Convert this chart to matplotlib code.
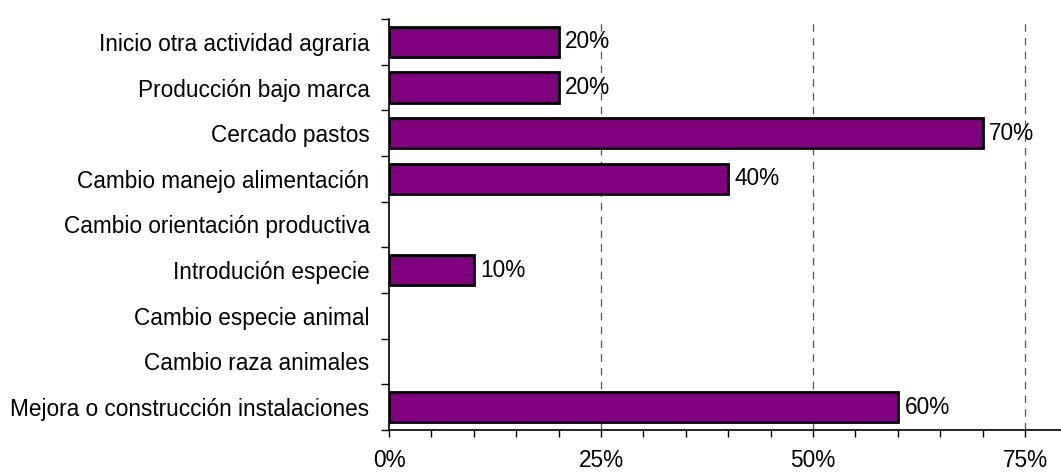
import numpy as np
import matplotlib as mpl
mpl.use("Agg")
import matplotlib.pyplot as plt
from matplotlib.ticker import MultipleLocator, FuncFormatter

# categories listed top to bottom
categorias = [
    "Inicio otra actividad agraria",
    "Producción bajo marca",
    "Cercado pastos",
    "Cambio manejo alimentación",
    "Cambio orientación productiva",
    "Introdución especie",
    "Cambio especie animal",
    "Cambio raza animales",
    "Mejora o construcción instalaciones",
]
valores = [0.20, 0.20, 0.70, 0.40, 0.0, 0.10, 0.0, 0.0, 0.60]
xticks_major = [0.0, 0.25, 0.50, 0.75]

plt.rcParams['font.family'] = ['Liberation Sans', 'DejaVu Sans']
fs = 16.3

fig = plt.figure(figsize=(10.61, 4.73), dpi=100)
ax = fig.add_axes([389/1061, 1 - 430/473, 1 - 389/1061, (430 - 19)/473])

n = len(categorias)
ypos = np.arange(n)[::-1]
for y, v in zip(ypos, valores):
    if v <= 0:
        continue
    ax.barh(y, v, height=0.66, color="#800080", edgecolor="black", linewidth=2.0, zorder=3)
    ax.text(v + 0.008, y, "%d%%" % round(v * 100), va="center", ha="left", fontsize=fs, zorder=4)

ax.set_xlim(0, 0.7925)
ax.set_ylim(-0.5, n - 0.5)

# dashed grid at the labelled ticks
for xv in xticks_major[1:]:
    ax.axvline(xv, color="#555555", linestyle=(0, (6, 5)), linewidth=0.9, zorder=1)

ax.xaxis.set_major_locator(mpl.ticker.FixedLocator(xticks_major))
ax.xaxis.set_minor_locator(MultipleLocator(0.05))
ax.xaxis.set_major_formatter(FuncFormatter(lambda x, p: "%d%%" % round(x * 100)))
ax.tick_params(axis="x", which="major", length=5, width=1, labelsize=fs, pad=9)
ax.tick_params(axis="x", which="minor", length=5, width=1)

# category labels centered, tick marks between categories
ax.set_yticks(ypos)
ax.set_yticklabels(categorias)
ax.set_yticks(np.arange(-0.5, n, 1.0), minor=True)
ax.tick_params(axis="y", which="major", length=0, labelsize=fs, pad=14)
ax.tick_params(axis="y", which="minor", length=6, width=1)

ax.spines["top"].set_visible(False)
ax.spines["right"].set_visible(False)
ax.spines["left"].set_linewidth(1.2)
ax.spines["bottom"].set_linewidth(1.2)

fig.savefig("out.png", dpi=100)
